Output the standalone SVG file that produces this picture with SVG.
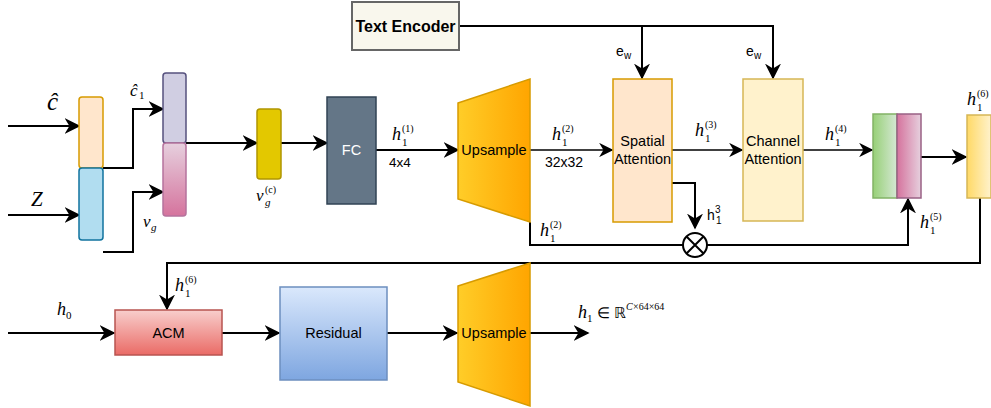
<svg xmlns="http://www.w3.org/2000/svg" width="991" height="408" viewBox="0 0 991 408">
<style>
.m{font-family:"Liberation Serif",serif;font-style:italic;fill:#000}
.u{font-family:"Liberation Serif",serif;fill:#000}
.s{font-family:"Liberation Sans",Arial,sans-serif;fill:#000}
.n{font-family:"Liberation Sans",Arial,sans-serif;fill:#000;font-size:14.5px;text-anchor:middle}
.w{fill:none;stroke:#000;stroke-width:2}
.t{fill:none;stroke:#000;stroke-width:1.3}
</style>
<defs>
<marker id="b" viewBox="0 0 10 10" refX="9" refY="5" markerWidth="8" markerHeight="8" orient="auto" markerUnits="strokeWidth"><path d="M0,0 L10,5 L0,10 L3,5 Z" fill="#000"/></marker>
<marker id="c" viewBox="0 0 10 10" refX="9" refY="5" markerWidth="11" markerHeight="11" orient="auto" markerUnits="strokeWidth"><path d="M0,0 L10,5 L0,10 L3,5 Z" fill="#000"/></marker>
<linearGradient id="gUp" x1="0" y1="0" x2="1" y2="0"><stop offset="0" stop-color="#ffcd28"/><stop offset="1" stop-color="#ffa500"/></linearGradient>
<linearGradient id="gPink" x1="0" y1="0" x2="0" y2="1"><stop offset="0" stop-color="#e6d0de"/><stop offset="1" stop-color="#d5739d"/></linearGradient>
<linearGradient id="gGreen" x1="0" y1="0" x2="1" y2="0"><stop offset="0" stop-color="#97d077"/><stop offset="1" stop-color="#d5e8d4"/></linearGradient>
<linearGradient id="gPink2" x1="0" y1="0" x2="1" y2="0"><stop offset="0" stop-color="#d5739d"/><stop offset="1" stop-color="#e6d0de"/></linearGradient>
<linearGradient id="gYel" x1="0" y1="0" x2="1" y2="0"><stop offset="0" stop-color="#ffd966"/><stop offset="1" stop-color="#fff2cc"/></linearGradient>
<linearGradient id="gRed" x1="0" y1="0" x2="0" y2="1"><stop offset="0" stop-color="#f8cecc"/><stop offset="1" stop-color="#ea6b66"/></linearGradient>
<linearGradient id="gBlue" x1="0" y1="0" x2="0" y2="1"><stop offset="0" stop-color="#dae8fc"/><stop offset="1" stop-color="#7ea6e0"/></linearGradient>
</defs>

<g id="connectors">
<line class="w" x1="8" y1="126" x2="79" y2="126" marker-end="url(#b)"/>
<line class="w" x1="8" y1="215" x2="79" y2="215" marker-end="url(#b)"/>
<polyline class="w" points="103,168 133,168 133,109 163,109" marker-end="url(#b)"/>
<polyline class="w" points="103,252 133,252 133,192 163,192" marker-end="url(#b)"/>
<line class="w" x1="186" y1="143" x2="257" y2="143" marker-end="url(#b)"/>
<line class="w" x1="281" y1="143" x2="327" y2="143" marker-end="url(#b)"/>
<line class="w" x1="376" y1="150" x2="458" y2="150" marker-end="url(#b)"/>
<line class="t" x1="530" y1="150" x2="612" y2="150" marker-end="url(#c)"/>
<polyline class="w" points="459,26 773,26 773,78" marker-end="url(#b)"/>
<line class="w" x1="642" y1="26" x2="642" y2="78" marker-end="url(#b)"/>
<line class="t" x1="672" y1="150" x2="742" y2="150" marker-end="url(#c)"/>
<line class="t" x1="803" y1="150" x2="872" y2="150" marker-end="url(#c)"/>
<line class="w" x1="921" y1="157" x2="966" y2="157" marker-end="url(#b)"/>
<polyline class="w" points="672,183 695,183 695,228" marker-end="url(#b)"/>
<polyline class="w" points="530,222 530,245 683,245"/>
<polyline class="w" points="707,245 908,245 908,199" marker-end="url(#b)"/>
<polyline class="w" points="980,198 980,263 167,263 167,309" marker-end="url(#b)"/>
<line class="w" x1="8" y1="333" x2="114" y2="333" marker-end="url(#b)"/>
<line class="w" x1="222" y1="333" x2="279" y2="333" marker-end="url(#b)"/>
<line class="w" x1="387" y1="333" x2="457" y2="333" marker-end="url(#b)"/>
<line class="w" x1="530" y1="333" x2="588" y2="333" marker-end="url(#b)"/>
</g>

<g id="c-hat"><rect x="79" y="97" width="24" height="71" rx="3" fill="#ffe6cc" stroke="#d79b00" stroke-width="1.5"/></g>
<g id="z"><rect x="79" y="168" width="24" height="72" rx="3" fill="#b1ddf0" stroke="#10739e" stroke-width="1.5"/></g>
<g id="c1"><rect x="163" y="73" width="23" height="70" rx="3" fill="#d0cee2" stroke="#56517e" stroke-width="1.5"/></g>
<g id="vg"><rect x="163" y="143" width="23" height="73" rx="3" fill="url(#gPink)" stroke="#b5739d" stroke-width="1.5"/></g>
<g id="vgc"><rect x="257" y="109" width="24" height="70" rx="3" fill="#e3c800" stroke="#b09500" stroke-width="1.5"/></g>
<g id="fc"><rect x="327" y="97" width="49" height="107" fill="#647687" stroke="#314354" stroke-width="1.5"/><text class="n" x="351.5" y="155" style="fill:#fff">FC</text></g>
<g id="text-encoder"><rect x="352" y="2" width="107" height="48" fill="#f9f7ed" stroke="#666" stroke-width="2"/><text class="s" x="405.5" y="32" font-size="16" font-weight="bold" text-anchor="middle">Text Encoder</text></g>
<g id="upsample1"><polygon points="458,103 530,79 530,222 458,199" fill="url(#gUp)" stroke="#d79b00" stroke-width="1.5"/><text class="n" x="494" y="155">Upsample</text></g>
<g id="spatial"><rect x="613" y="79" width="59" height="143" fill="#ffe6cc" stroke="#d79b00" stroke-width="1.5"/><text class="n" x="642.5" y="146">Spatial</text><text class="n" x="642.5" y="164">Attention</text></g>
<g id="channel"><rect x="743" y="79" width="60" height="142" fill="#fff2cc" stroke="#d6b656" stroke-width="1.5"/><text class="n" x="773" y="146">Channel</text><text class="n" x="773" y="164">Attention</text></g>
<g id="concat"><rect x="873" y="114" width="24" height="84" fill="url(#gGreen)" stroke="#82b366" stroke-width="1.5"/><rect x="897" y="114" width="24" height="84" fill="url(#gPink2)" stroke="#996185" stroke-width="1.5"/></g>
<g id="h16"><rect x="967" y="115" width="24" height="83" fill="url(#gYel)" stroke="#d6b656" stroke-width="1.5"/></g>
<g id="mult"><circle cx="695" cy="245" r="12" fill="#fff" stroke="#000" stroke-width="2"/><path d="M686.5,236.5 L703.5,253.5 M703.5,236.5 L686.5,253.5" stroke="#000" stroke-width="2"/></g>
<g id="acm"><rect x="115" y="310" width="107" height="45" fill="url(#gRed)" stroke="#b85450" stroke-width="1.5"/><text class="n" x="168.5" y="338">ACM</text></g>
<g id="residual"><rect x="280" y="287" width="107" height="93" fill="url(#gBlue)" stroke="#6c8ebf" stroke-width="1.5"/><text class="n" x="333.5" y="338">Residual</text></g>
<g id="upsample2"><polygon points="458,286 530,263 530,406 458,382" fill="url(#gUp)" stroke="#d79b00" stroke-width="1.5"/><text class="n" x="494" y="338">Upsample</text></g>

<g id="labels">
<text class="m" x="47" y="110" font-size="25">ĉ</text>
<text class="m" x="31" y="206" font-size="21">Z</text>
<text class="m" x="130" y="96" font-size="17">ĉ</text><text class="u" x="139" y="99" font-size="11">1</text>
<text class="m" x="143" y="227" font-size="17">v</text><text class="m" x="151" y="231" font-size="11">g</text>
<text class="m" x="256" y="201" font-size="17">v</text><text class="m" x="265" y="206" font-size="11">g</text><text class="u" x="265" y="193" font-size="10">(c)</text>
<text class="m" x="392" y="140" font-size="18">h</text><text class="u" x="402" y="146" font-size="11">1</text><text class="u" x="402" y="132" font-size="10">(1)</text>
<text class="s" x="389" y="167" font-size="13.5">4x4</text>
<text class="m" x="552" y="140" font-size="18">h</text><text class="u" x="562" y="146" font-size="11">1</text><text class="u" x="562" y="132" font-size="10">(2)</text>
<text class="s" x="545" y="167" font-size="14">32x32</text>
<text class="m" x="540" y="236" font-size="18">h</text><text class="u" x="550" y="242" font-size="11">1</text><text class="u" x="550" y="228" font-size="10">(2)</text>
<text class="s" x="616" y="56" font-size="14">e</text><text class="s" x="624" y="59" font-size="10">w</text>
<text class="s" x="746" y="56" font-size="14">e</text><text class="s" x="754" y="59" font-size="10">w</text>
<text class="m" x="695" y="136" font-size="18">h</text><text class="u" x="705" y="142" font-size="11">1</text><text class="u" x="705" y="128" font-size="10">(3)</text>
<text class="m" x="825" y="140" font-size="18">h</text><text class="u" x="835" y="146" font-size="11">1</text><text class="u" x="835" y="132" font-size="10">(4)</text>
<text class="s" x="707" y="220" font-size="14">h</text><text class="s" x="715" y="213" font-size="10">3</text><text class="s" x="716" y="224" font-size="10">1</text>
<text class="m" x="920" y="228" font-size="18">h</text><text class="u" x="930" y="234" font-size="11">1</text><text class="u" x="930" y="220" font-size="10">(5)</text>
<text class="m" x="967" y="105" font-size="18">h</text><text class="u" x="977" y="111" font-size="11">1</text><text class="u" x="977" y="97" font-size="10">(6)</text>
<text class="m" x="175" y="291" font-size="18">h</text><text class="u" x="185" y="297" font-size="11">1</text><text class="u" x="185" y="283" font-size="10">(6)</text>
<text class="m" x="57" y="315" font-size="18">h</text><text class="u" x="66" y="319" font-size="11">0</text>
<text class="m" x="578" y="318" font-size="18">h</text><text class="u" x="587" y="322" font-size="11">1</text><text class="u" x="597" y="318" font-size="15">∈ ℝ</text><text class="m" x="626" y="310" font-size="10">C</text><text class="u" x="633" y="310" font-size="10">×64×64</text>
</g>
</svg>
